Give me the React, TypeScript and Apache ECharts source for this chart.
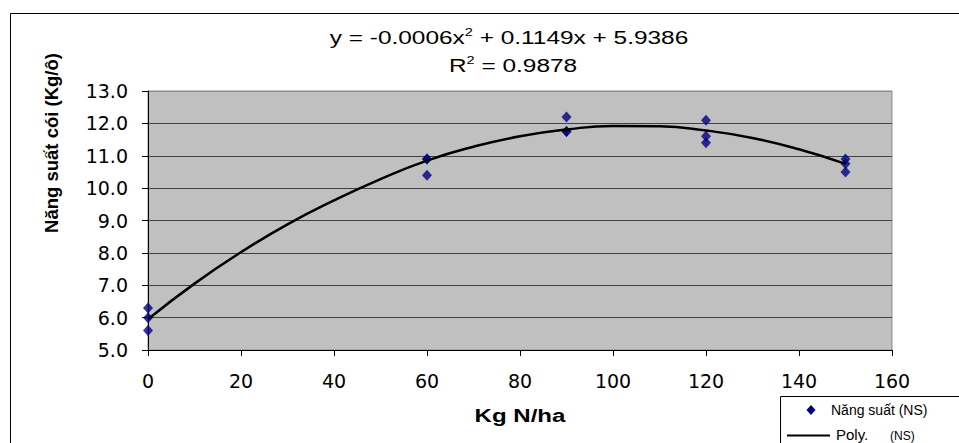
import React, { useEffect, useRef } from "react";
import * as echarts from "echarts";

// Scatter observations (Kg N/ha vs yield)
const nitrogenRates = [0, 0, 0, 60, 60, 60, 90, 90, 90, 120, 120, 120, 150, 150, 150];
const yieldValues = [6.3, 6.0, 5.6, 10.9, 10.9, 10.4, 12.2, 11.75, 11.75, 12.1, 11.6, 11.4, 10.9, 10.75, 10.5];

// Polynomial trend line
const trendX = [0, 10, 20, 30, 40, 50, 60, 70, 80, 90, 100, 110, 120, 130, 140, 150];
const trendY = [5.95, 7.05, 8.02, 8.88, 9.62, 10.28, 10.85, 11.28, 11.6, 11.81, 11.92, 11.91, 11.78, 11.55, 11.2, 10.75];

const yTicks = ["5.0", "6.0", "7.0", "8.0", "9.0", "10.0", "11.0", "12.0", "13.0"];

const equationText = "y = -0.0006x";
const equationRest = " + 0.1149x + 5.9386";
const r2Value = " = 0.9878";
const yAxisTitle = "Năng suất cói (Kg/ô)";
const xAxisTitle = "Kg N/ha";
const legendScatter = "Năng suất (NS)";
const legendPoly = "Poly.";
const legendPolySuffix = "(NS)";

const FONT = "'Liberation Sans', Arial, sans-serif";
const TICK_FONT = "'DejaVu Sans', sans-serif";

export default function App() {
  const ref = useRef<HTMLDivElement>(null);

  useEffect(() => {
    document.body.style.margin = "0";
    document.body.style.overflow = "hidden";
    if (!ref.current) return;
    const chart = echarts.init(ref.current, null, { renderer: "svg" });

    const scatterData = nitrogenRates.map((x, i) => [x, yieldValues[i]]);
    const trendData = trendX.map((x, i) => [x, trendY[i]]);

    const splitColors = yTicks.map((_, i) => (i === yTicks.length - 1 ? "#8c8c8c" : "#404040"));

    const option: any = {
      animation: false,
      backgroundColor: "#ffffff",
      grid: {
        left: 148,
        top: 91,
        right: 67,
        bottom: 93,
        show: true,
        backgroundColor: "#C0C0C0",
        borderColor: "#8c8c8c",
        borderWidth: 1,
      },
      xAxis: {
        type: "value",
        min: 0,
        max: 160,
        interval: 20,
        axisLine: { show: true, onZero: false, lineStyle: { color: "#000", width: 1 } },
        axisTick: { show: true, inside: false, length: 6, lineStyle: { color: "#000" } },
        axisLabel: { color: "#000", fontSize: 19, fontFamily: TICK_FONT, margin: 21 },
        splitLine: { show: false },
      },
      yAxis: {
        type: "value",
        min: 5,
        max: 13,
        interval: 1,
        axisLine: { show: true, onZero: false, lineStyle: { color: "#000", width: 1 } },
        axisTick: { show: true, inside: false, length: 6, lineStyle: { color: "#000" } },
        axisLabel: {
          color: "#000",
          fontSize: 19,
          fontFamily: TICK_FONT,
          margin: 20,
          formatter: (v: number) => yTicks[Math.round(v - 5)] ?? v.toFixed(1),
        },
        splitLine: { show: true, lineStyle: { color: splitColors, width: 1 } },
      },
      series: [
        {
          name: legendScatter,
          type: "scatter",
          data: scatterData,
          symbol: "diamond",
          symbolSize: [10, 11],
          itemStyle: { color: "#000080" },
          z: 3,
        },
        {
          name: "Poly. (NS)",
          type: "line",
          data: trendData,
          smooth: true,
          showSymbol: false,
          symbol: "none",
          lineStyle: { color: "#000", width: 2.5 },
          z: 4,
        },
      ],
      graphic: [
        {
          type: "rect",
          shape: { x: 10.5, y: 13.5, width: 1000, height: 500 },
          style: { fill: "none", stroke: "#000", lineWidth: 1 },
          silent: true,
          z: -10,
        },
        {
          type: "text",
          x: 509,
          y: 38,
          scaleX: 1.32,
          style: {
            x: 0,
            y: 0,
            text: "{a|" + equationText + "}{b|2}{a|" + equationRest + "}",
            align: "center",
            verticalAlign: "middle",
            rich: {
              a: { fontSize: 18.5, fontFamily: FONT, fill: "#000", lineHeight: 22 },
              b: { fontSize: 11, fontFamily: FONT, fill: "#000", lineHeight: 11, verticalAlign: "top" },
            },
          },
        },
        {
          type: "text",
          x: 513,
          y: 66,
          scaleX: 1.32,
          style: {
            x: 0,
            y: 0,
            text: "{a|R}{b|2}{a|" + r2Value + "}",
            align: "center",
            verticalAlign: "middle",
            rich: {
              a: { fontSize: 18.5, fontFamily: FONT, fill: "#000", lineHeight: 22 },
              b: { fontSize: 11, fontFamily: FONT, fill: "#000", lineHeight: 11, verticalAlign: "top" },
            },
          },
        },
        {
          type: "text",
          x: 51,
          y: 143,
          rotation: Math.PI / 2,
          style: {
            text: yAxisTitle,
            fontSize: 18.5,
            fontWeight: "bold",
            fontFamily: FONT,
            fill: "#000",
            align: "center",
            verticalAlign: "middle",
          },
        },
        {
          type: "text",
          x: 520,
          y: 416,
          scaleX: 1.3,
          style: {
            x: 0,
            y: 0,
            text: xAxisTitle,
            fontSize: 18.5,
            fontWeight: "bold",
            fontFamily: FONT,
            fill: "#000",
            align: "center",
            verticalAlign: "middle",
          },
        },
        {
          type: "rect",
          shape: { x: 780.5, y: 396.5, width: 220, height: 80 },
          style: { fill: "#fff", stroke: "#000", lineWidth: 1 },
          z: 10,
        },
        {
          type: "polygon",
          shape: { points: [[811, 405], [815.5, 410], [811, 415], [806.5, 410]] },
          style: { fill: "#000080" },
          z: 11,
        },
        {
          type: "text",
          x: 831,
          y: 410,
          style: {
            text: legendScatter,
            fontSize: 14,
            fontFamily: FONT,
            fill: "#000",
            align: "left",
            verticalAlign: "middle",
          },
          z: 11,
        },
        {
          type: "line",
          shape: { x1: 787, y1: 435.5, x2: 830, y2: 435.5 },
          style: { stroke: "#000", lineWidth: 2 },
          z: 11,
        },
        {
          type: "text",
          x: 836,
          y: 434,
          style: {
            text: legendPoly,
            fontSize: 15,
            fontFamily: FONT,
            fill: "#000",
            align: "left",
            verticalAlign: "middle",
          },
          z: 11,
        },
        {
          type: "text",
          x: 890,
          y: 435.5,
          style: {
            text: legendPolySuffix,
            fontSize: 12,
            fontFamily: FONT,
            fill: "#000",
            align: "left",
            verticalAlign: "middle",
          },
          z: 11,
        },
      ],
    };

    chart.setOption(option);
    return () => {
      chart.dispose();
    };
  }, []);

  return <div ref={ref} style={{ width: 959, height: 443 }} />;
}
